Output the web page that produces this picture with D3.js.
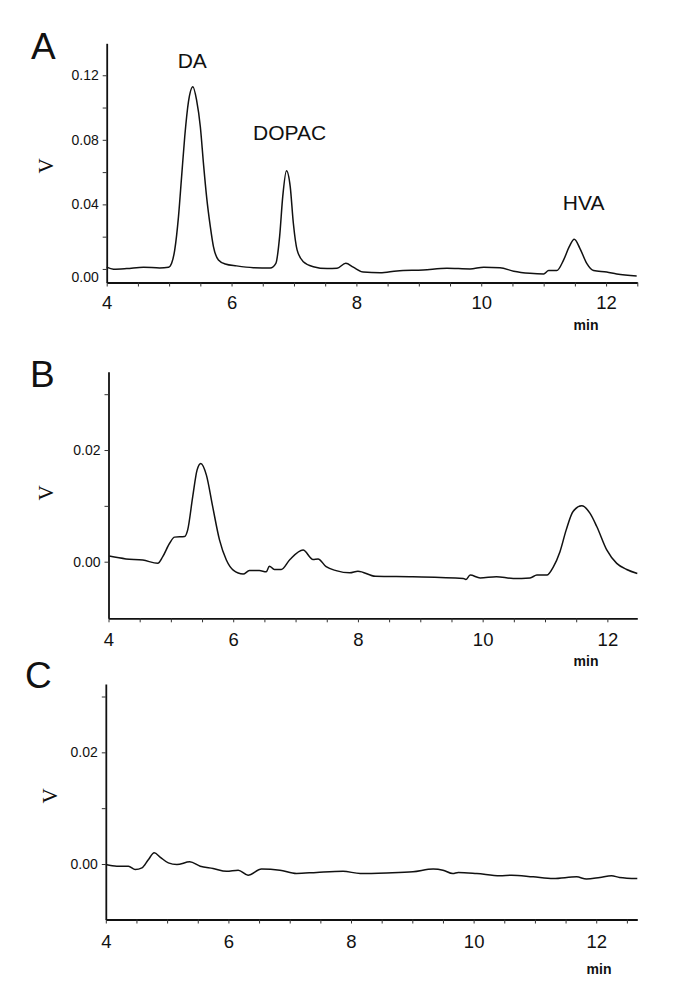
<!DOCTYPE html>
<html>
<head>
<meta charset="utf-8">
<script src="https://cdn.jsdelivr.net/npm/d3@7"></script>
<style>
  html, body { margin: 0; padding: 0; background: #fff; }
  svg { display: block; }
  text { font-family: "Liberation Sans", Arial, sans-serif; fill: #111; }
</style>
</head>
<body>
<svg id="chart" width="685" height="1000"></svg>
<script>
// ---------------- data ----------------
// Panel A chromatogram (time in min, signal in V)
const timeA = [4.00, 4.11, 4.32, 4.59, 4.85, 4.99, 5.04, 5.09, 5.15, 5.20, 5.25, 5.31, 5.38, 5.44, 5.50, 5.55, 5.60, 5.66, 5.71, 5.79, 5.90, 6.08, 6.35, 6.62, 6.71, 6.77, 6.82, 6.88, 6.94, 6.99, 7.05, 7.15, 7.31, 7.53, 7.69, 7.83, 7.95, 8.11, 8.38, 8.65, 9.07, 9.45, 9.82, 10.04, 10.30, 10.52, 10.78, 11.00, 11.08, 11.21, 11.32, 11.41, 11.49, 11.58, 11.69, 11.80, 12.01, 12.17, 12.49];
const valueA = [0.0011, -0.0002, 0.0002, 0.0011, 0.0006, 0.0010, 0.0035, 0.0118, 0.0324, 0.0572, 0.0819, 0.1036, 0.1129, 0.1046, 0.0881, 0.0654, 0.0448, 0.0262, 0.0138, 0.0056, 0.0031, 0.0019, 0.0008, 0.0006, 0.0035, 0.0200, 0.0448, 0.0609, 0.0510, 0.0283, 0.0118, 0.0045, 0.0014, 0.0002, 0.0004, 0.0035, 0.0011, -0.0019, -0.0023, -0.0012, -0.0006, 0.0004, 0.0000, 0.0011, 0.0008, -0.0014, -0.0027, -0.0031, -0.0010, -0.0010, 0.0056, 0.0138, 0.0184, 0.0128, 0.0035, -0.0010, -0.0019, -0.0031, -0.0043];

// Panel B chromatogram
const timeB = [4.01, 4.28, 4.55, 4.79, 4.87, 4.98, 5.06, 5.22, 5.27, 5.35, 5.42, 5.48, 5.57, 5.67, 5.78, 5.89, 6.00, 6.16, 6.26, 6.42, 6.53, 6.58, 6.66, 6.77, 6.91, 7.12, 7.28, 7.36, 7.49, 7.65, 7.87, 8.00, 8.28, 8.88, 9.69, 9.73, 9.80, 9.96, 10.22, 10.49, 10.76, 10.87, 11.03, 11.13, 11.24, 11.34, 11.45, 11.59, 11.72, 11.83, 11.99, 12.15, 12.31, 12.48];
const valueB = [0.0010, 0.0005, 0.0003, -0.0003, 0.0009, 0.0033, 0.0044, 0.0045, 0.0057, 0.0116, 0.0164, 0.0176, 0.0155, 0.0099, 0.0039, 0.0003, -0.0015, -0.0022, -0.0016, -0.0016, -0.0018, -0.0008, -0.0014, -0.0014, 0.0004, 0.0021, 0.0004, 0.0005, -0.0009, -0.0016, -0.0020, -0.0017, -0.0026, -0.0027, -0.0030, -0.0032, -0.0024, -0.0029, -0.0027, -0.0030, -0.0029, -0.0024, -0.0024, -0.0010, 0.0018, 0.0057, 0.0090, 0.0100, 0.0087, 0.0063, 0.0021, -0.0003, -0.0014, -0.0021];

// Panel C chromatogram
const timeC = [4.00, 4.18, 4.37, 4.48, 4.59, 4.69, 4.79, 4.89, 5.02, 5.16, 5.37, 5.54, 5.75, 5.97, 6.16, 6.32, 6.54, 6.84, 7.11, 7.44, 7.87, 8.15, 8.58, 9.01, 9.34, 9.50, 9.66, 9.75, 10.05, 10.43, 10.62, 10.97, 11.30, 11.68, 11.84, 12.06, 12.25, 12.38, 12.67];
const valueC = [-0.0001, -0.0004, -0.0004, -0.0010, -0.0007, 0.0007, 0.0020, 0.0012, 0.0002, -0.0001, 0.0004, -0.0004, -0.0008, -0.0013, -0.0011, -0.0020, -0.0009, -0.0011, -0.0017, -0.0015, -0.0013, -0.0017, -0.0016, -0.0014, -0.0009, -0.0011, -0.0017, -0.0015, -0.0017, -0.0021, -0.0020, -0.0023, -0.0026, -0.0023, -0.0027, -0.0024, -0.0021, -0.0024, -0.0026];

// Tick values
const xMajorTicks = [4, 6, 8, 10, 12];
const xAllTicks = [4, 4.5, 5, 5.5, 6, 6.5, 7, 7.5, 8, 8.5, 9, 9.5, 10, 10.5, 11, 11.5, 12, 12.5];
const yMajorA = [0, 0.04, 0.08, 0.12];
const yMinorA = [0.02, 0.06, 0.10];
const yMajorBC = [0, 0.02];
const yMinorBC = [0.01, 0.03];

// Peak annotations in panel A
const peakNames = ["DA", "DOPAC", "HVA"];
const peakLabelTime = [5.37, 6.93, 11.64];
const peakLabelValue = [0.1243, 0.0799, 0.0365];

// ---------------- layout ----------------
const panels = [
  { letter: "A", t: timeA, v: valueA, xDom: [4, 12.5], xRange: [106.7, 637.3], yDom: [-0.0084, 0.1398], yRange: [282.5, 43.3],
    yMajor: yMajorA, yMinor: yMinorA, letterPos: [31, 58.5], vPos: [46, 166], minPos: [586, 330], xPad: 9, zeroShift: 8 },
  { letter: "B", t: timeB, v: valueB, xDom: [4, 12.48], xRange: [108.5, 637.3], yDom: [-0.01014, 0.03403], yRange: [618.3, 371.7],
    yMajor: yMajorBC, yMinor: yMinorBC, letterPos: [30, 387], vPos: [46, 493], minPos: [586, 666], xPad: 11, zeroShift: 0 },
  { letter: "C", t: timeC, v: valueC, xDom: [4, 12.67], xRange: [105.8, 637.3], yDom: [-0.00994, 0.03224], yRange: [919.5, 684],
    yMajor: yMajorBC, yMinor: yMinorBC, letterPos: [25, 687.5], vPos: [50, 796], minPos: [599, 974], xPad: 11.5, zeroShift: 0 }
];

const svg = d3.select("#chart");
svg.append("rect").attr("width", 685).attr("height", 1000).attr("fill", "#fff");

panels.forEach((p, pi) => {
  const x = d3.scaleLinear().domain(p.xDom).range(p.xRange);
  const y = d3.scaleLinear().domain(p.yDom).range(p.yRange);
  const g = svg.append("g");

  // x axis
  const xTicks = xAllTicks.filter(d => d <= p.xDom[1] + 1e-9);
  const xAxis = d3.axisBottom(x).tickValues(xTicks).tickSizeInner(4).tickSizeOuter(0).tickPadding(p.xPad)
    .tickFormat(d => xMajorTicks.includes(d) ? d3.format("d")(d) : "");
  const gx = g.append("g").attr("transform", `translate(0,${p.yRange[0]})`).call(xAxis);
  gx.attr("font-size", null).attr("font-family", null);
  gx.select(".domain").attr("stroke", "#111").attr("stroke-width", 1.8);
  gx.selectAll(".tick line").attr("stroke", "#333").attr("stroke-width", 1);
  gx.selectAll(".tick text").style("font-size", "18.5px")
    .style("font-family", "'Liberation Sans', Arial, sans-serif").attr("fill", "#111");

  // y axis
  const yTicks = p.yMajor.concat(p.yMinor).sort((a, b) => a - b);
  const yAxis = d3.axisLeft(y).tickValues(yTicks).tickSizeInner(4).tickSizeOuter(0).tickPadding(4)
    .tickFormat(d => p.yMajor.includes(d) ? d3.format(".2f")(d) : "");
  const gy = g.append("g").attr("transform", `translate(${p.xRange[0]},0)`).call(yAxis);
  gy.attr("font-size", null).attr("font-family", null);
  gy.select(".domain").attr("stroke", "#111").attr("stroke-width", 1.8);
  gy.selectAll(".tick line").attr("stroke", "#333").attr("stroke-width", 1);
  gy.selectAll(".tick text").style("font-size", "14px")
    .style("font-family", "'Liberation Sans', Arial, sans-serif").attr("fill", "#111");
  if (p.zeroShift) {
    gy.selectAll(".tick").filter(d => d === 0).select("text").attr("dy", (0.32 * 14 + p.zeroShift) + "px");
  }

  // trace
  const pts = p.t.map((t, i) => [t, p.v[i]]);
  const line = d3.line().x(d => x(d[0])).y(d => y(d[1])).curve(d3.curveMonotoneX);
  g.append("path").datum(pts).attr("d", line).attr("fill", "none")
    .attr("stroke", "#111").attr("stroke-width", 1.5).attr("stroke-linejoin", "round");

  // panel letter
  g.append("text").attr("x", p.letterPos[0]).attr("y", p.letterPos[1])
    .style("font-size", "37px").text(p.letter);

  // V axis label (rotated)
  g.append("text").attr("transform", `translate(${p.vPos[0]},${p.vPos[1]}) rotate(-90)`)
    .attr("text-anchor", "middle").attr("dominant-baseline", "central")
    .style("font-size", "21px")
    .style("font-family", "'Liberation Serif', 'Times New Roman', serif").text("V");

  // min label
  g.append("text").attr("x", p.minPos[0]).attr("y", p.minPos[1])
    .attr("text-anchor", "middle").style("font-size", "14px").style("font-weight", "bold").text("min");

  // peak annotations (panel A)
  if (pi === 0) {
    peakNames.forEach((name, i) => {
      g.append("text").attr("x", x(peakLabelTime[i])).attr("y", y(peakLabelValue[i]))
        .attr("text-anchor", "middle").style("font-size", "21px").text(name);
    });
  }
});
</script>
</body>
</html>
